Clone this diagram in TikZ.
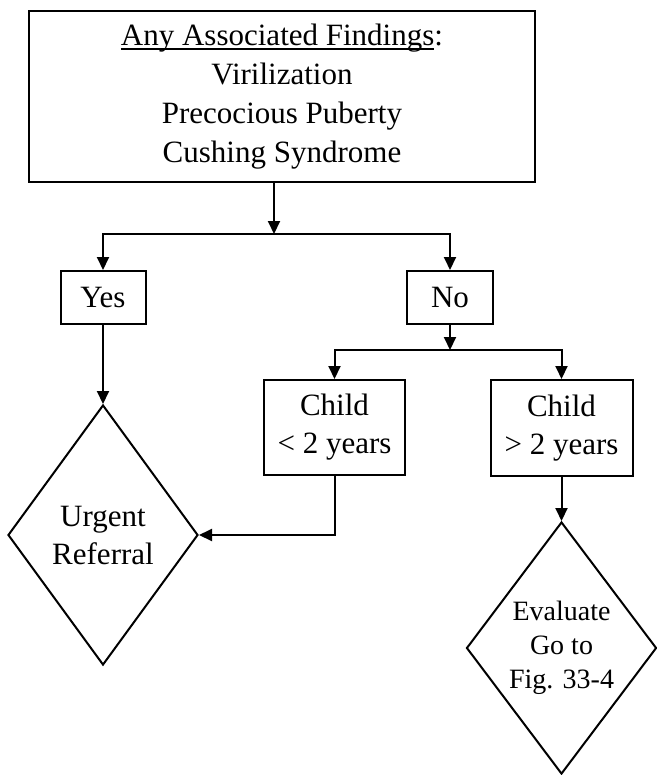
\documentclass[tikz,border=0pt]{standalone}
\usepackage{fontspec}
\setmainfont{Liberation Serif}
\usetikzlibrary{arrows.meta,shapes.geometric}

% underline that runs through the descenders
\newcommand\headrule[1]{\setbox0\hbox{#1}\rlap{\rule[-2.2pt]{\wd0}{0.7pt}}\box0}

\tikzset{
  flow/.style={line width=1pt},
  arr/.style={flow,-{Triangle[length=6.5pt,width=6pt]}},
  boxnode/.style={draw,line width=1pt,rectangle,inner sep=0pt,align=center,
    font=\fontsize{15.5}{19}\selectfont},
  decide/.style={draw,line width=1pt,diamond,aspect=0.75,inner sep=0pt,align=center,
    font=\fontsize{15.5}{19}\selectfont},
}

\begin{document}
\begin{tikzpicture}[x=0.5pt,y=-0.5pt]
\useasboundingbox (0,0) rectangle (657,775);

% question box
\node[boxnode,minimum width=253pt,minimum height=85.5pt,
      font=\fontsize{15.5}{19.5}\selectfont] (top) at (282,96.5)
  {\headrule{Any Associated Findings}:\\Virilization\\Precocious Puberty\\Cushing Syndrome};

% answers
\node[boxnode,minimum width=42.5pt,minimum height=26.5pt] (yes) at (103,297.5) {Yes};
\node[boxnode,minimum width=43pt,minimum height=26.5pt] (no) at (450,297.5) {No};

% age split
\node[boxnode,minimum width=70.5pt,minimum height=47.5pt] (young) at (334.5,427.5) {Child\\< 2 years};
\node[boxnode,minimum width=71pt,minimum height=48pt] (old) at (561.5,428) {Child\\> 2 years};

% outcomes
\node[decide,minimum width=95pt,minimum height=130pt] (urgent) at (103,535) {Urgent\\Referral};
\node[decide,minimum width=95pt,minimum height=126pt,
      font=\fontsize{14}{17}\selectfont] (eval) at (561.5,648) {Evaluate\\Go to\\Fig. 33-4};

% branching points
\coordinate (split1) at (274,234);
\coordinate (split2) at (450,350);

% connectors
\draw[arr] (top.south -| split1) -- (split1);
\draw[arr] (split1) -| (yes.north);
\draw[arr] (split1) -| (no.north);
\draw[arr] (no.south) -- (split2);
\draw[arr] (split2) -| (young.north);
\draw[arr] (split2) -| (old.north);
\draw[arr] (yes.south) -- (urgent.north);
\draw[arr] (young.south) |- (urgent.east);
\draw[arr] (old.south) -- (eval.north);
\end{tikzpicture}
\end{document}
